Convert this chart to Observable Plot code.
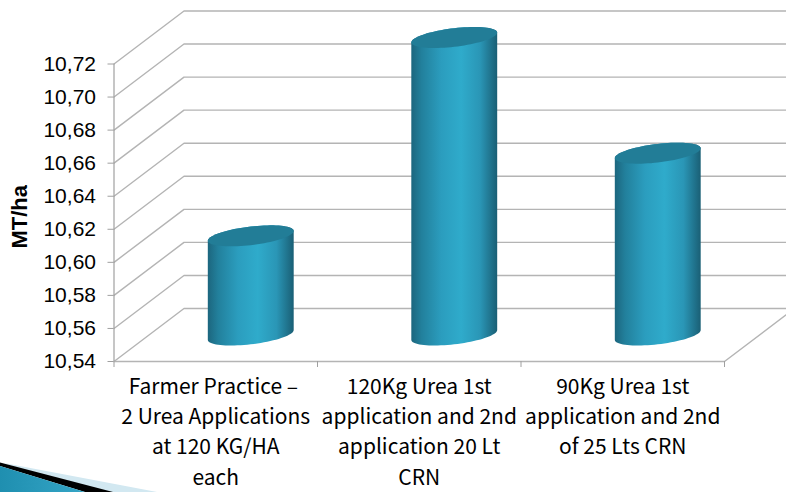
<!DOCTYPE html>
<html>
<head>
<meta charset="utf-8">
<script src="https://cdn.jsdelivr.net/npm/d3@7"></script>
<script src="https://cdn.jsdelivr.net/npm/@observablehq/plot@0.6"></script>
<style>
  html, body { margin: 0; padding: 0; background: #fff; overflow: hidden; }
  #chart { position: relative; width: 786px; height: 492px; }
  #chart svg { position: absolute; left: 0; top: 0; }
</style>
</head>
<body>
<div id="chart">
  <!-- Gradients for the cylinders, and the slide's corner arrow -->
  <svg width="786" height="492">
    <defs>
      <linearGradient id="cylinderBody" x1="0" x2="1" y1="0" y2="0">
        <stop offset="0" stop-color="#1c667e"/>
        <stop offset="0.12" stop-color="#22809c"/>
        <stop offset="0.35" stop-color="#2b9dbe"/>
        <stop offset="0.58" stop-color="#2fabcb"/>
        <stop offset="0.8" stop-color="#2a96b6"/>
        <stop offset="1" stop-color="#1a5f75"/>
      </linearGradient>
      <linearGradient id="cornerTeal" x1="0" x2="1" y1="0" y2="0">
        <stop offset="0" stop-color="#1f8fb0"/>
        <stop offset="1" stop-color="#35a5c6"/>
      </linearGradient>
    </defs>
    <polygon points="4,463 157,492 85,492" fill="#d2e8f1"/>
    <polygon points="0,462.5 113,492 85,492 0,466" fill="#000"/>
    <polygon points="0,466 85,492 0,492" fill="url(#cornerTeal)"/>
  </svg>
</div>
<script>
const categories = [
  "Farmer Practice\u00a0–\u00a0\n2 Urea Applications\nat 120 KG/HA\neach",
  "120Kg Urea 1st\napplication and 2nd\napplication 20 Lt\nCRN",
  "90Kg Urea 1st\napplication and 2nd\nof 25 Lts CRN"
];
const yields = [10.60, 10.72, 10.65];
const yTicks = [10.54, 10.56, 10.58, 10.60, 10.62, 10.64, 10.66, 10.68, 10.70, 10.72];

// Pixels per scale unit, used to express the oblique depth and the cylinder caps.
const frame = {left: 113.5, right: 724, top: 63.5, bottom: 361};
const pxX = 3 / (frame.right - frame.left);
const pxY = (10.72 - 10.54) / (frame.bottom - frame.top);
const depthX = 70 * pxX;
const depthY = 53 * pxY;
const base = yTicks[0];

// Wall and floor lines: from the front edge, back along the side wall, across the rear wall.
const grid = yTicks.flatMap((v) => [
  {v, x: 0, y: v},
  {v, x: depthX, y: v + depthY},
  {v, x: 3 + depthX, y: v + depthY}
]);

// Disc outline in the oblique projection, centred mid-depth on a category.
const capA = 38 * pxX, capB = 20 * pxX, capC = 10.5 * pxY;
const t0 = Math.atan2(capB, capA);
const discPoint = (i, level, t) => ({
  x: i + 0.5 + depthX / 2 + capA * Math.cos(t) + capB * Math.sin(t),
  y: level + depthY / 2 + capC * Math.sin(t)
});
const arc = (i, level, from) =>
  d3.range(0, 41).map((k) => discPoint(i, level, from + (k / 40) * Math.PI));

const bodies = yields.flatMap((v, i) =>
  [...arc(i, v, t0), ...arc(i, base, t0 + Math.PI)].map((p) => ({...p, i}))
);
const caps = yields.flatMap((v, i) =>
  [...arc(i, v, t0), ...arc(i, v, t0 + Math.PI)].map((p) => ({...p, i}))
);

const gridColor = "#b4b4b4";
const labelFont = "'Noto Sans CJK JP', 'Liberation Sans', sans-serif";

const plot = Plot.plot({
  width: 786,
  height: 492,
  marginLeft: frame.left,
  marginRight: 786 - frame.right,
  marginTop: frame.top,
  marginBottom: 492 - frame.bottom,
  style: {background: "transparent", overflow: "hidden"},
  x: {domain: [0, 3], axis: null},
  y: {domain: [10.54, 10.72], axis: null},
  marks: [
    Plot.line(grid, {x: "x", y: "y", z: "v", stroke: gridColor, strokeWidth: 1.4}),
    // Front floor edge and its return on the right.
    Plot.line([{x: 0, y: base}, {x: 3, y: base}, {x: 3 + depthX, y: base + depthY}],
      {x: "x", y: "y", stroke: gridColor, strokeWidth: 1.4}),
    Plot.ruleX([0], {y1: base, y2: yTicks[yTicks.length - 1], stroke: "#a0a0a0", strokeWidth: 1.2}),
    Plot.axisY({
      ticks: yTicks,
      tickSize: 6,
      tickPadding: 12,
      stroke: "#a0a0a0",
      fill: "#000",
      fontSize: 21,
      fontFamily: "'Liberation Sans', sans-serif",
      tickFormat: (d) => d.toFixed(2).replace(".", ","),
      label: null
    }),
    Plot.axisX({
      ticks: [0, 1, 2, 3],
      tickSize: 6,
      stroke: "#a0a0a0",
      tickFormat: () => "",
      label: null
    }),
    Plot.line(bodies, {x: "x", y: "y", z: "i", fill: "url(#cylinderBody)", stroke: "none"}),
    Plot.line(caps, {x: "x", y: "y", z: "i", fill: "#227d97", stroke: "none"}),
    Plot.text(categories, {
      x: (d, i) => i + 0.5,
      y: base,
      text: (d) => d,
      dy: 11,
      lineAnchor: "top",
      lineHeight: 1.44,
      fontSize: 21,
      fontFamily: labelFont,
      fill: "#000"
    }),
    Plot.text(["MT/ha"], {
      frameAnchor: "left",
      textAnchor: "middle",
      dx: -94,
      dy: 4,
      rotate: -90,
      fontSize: 22,
      fontWeight: "bold",
      fontFamily: "'Liberation Sans', sans-serif",
      fill: "#000"
    })
  ]
});
document.getElementById("chart").appendChild(plot);
</script>
</body>
</html>
